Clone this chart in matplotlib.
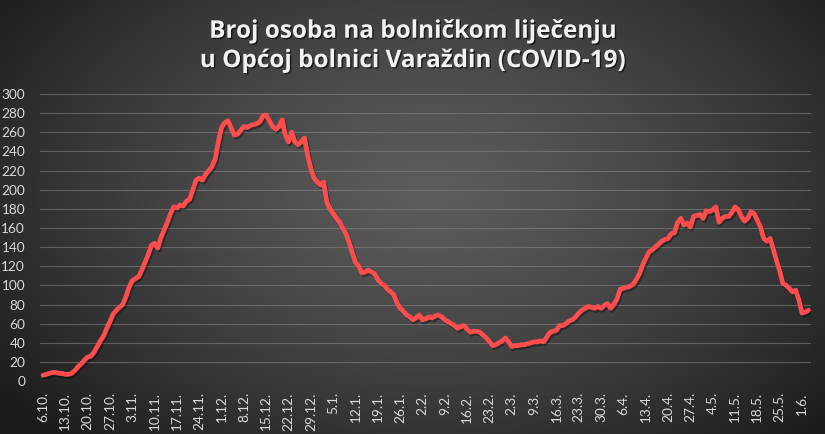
import matplotlib
matplotlib.use("Agg")
import matplotlib.pyplot as plt
import matplotlib.patheffects as pe
import numpy as np

plt.rcParams['font.family'] = ['Lato', 'DejaVu Sans']

# daily number of hospitalised persons, 6.10. -> 3.6.
patients = [
    6, 7, 8, 9, 9, 8, 8,
    7, 7, 8, 11, 15, 18, 22,
    25, 26, 30, 36, 42, 47, 55,
    62, 70, 74, 77, 80, 88, 98,
    105, 107, 109, 116, 124, 132, 142,
    144, 139, 150, 158, 166, 175, 182,
    181, 184, 183, 188, 190, 200, 210,
    212, 210, 216, 220, 224, 232, 250,
    265, 270, 272, 265, 257, 258, 262,
    266, 265, 267, 268, 269, 271, 277,
    278, 272, 266, 263, 266, 273, 257,
    250, 260, 250, 247, 250, 254, 236,
    222, 212, 208, 205, 208, 187, 180,
    175, 170, 166, 160, 154, 145, 134,
    124, 120, 113, 114, 116, 114, 112,
    106, 102, 100, 96, 93, 90, 82,
    76, 73, 69, 67, 64, 66, 69,
    64, 65, 67, 66, 68, 69, 67,
    64, 62, 60, 58, 55, 57, 58,
    54, 51, 52, 52, 51, 48, 45,
    41, 37, 38, 40, 42, 45, 41,
    36, 37, 37, 38, 38, 39, 40,
    41, 41, 42, 41, 46, 51, 52,
    53, 58, 58, 60, 63, 64, 67,
    71, 74, 76, 78, 77, 76, 78,
    76, 79, 81, 76, 80, 86, 96,
    97, 98, 99, 101, 106, 112, 121,
    128, 135, 137, 140, 143, 146, 148,
    149, 154, 155, 166, 170, 163, 165,
    161, 172, 173, 174, 170, 178, 177,
    179, 182, 166, 170, 172, 172, 176,
    182, 179, 172, 167, 170, 177, 175,
    168, 161, 149, 146, 149, 138, 126,
    115, 102, 100, 97, 93, 95, 85,
    71, 72, 74,
]

week_labels = ["6.10.", "13.10.", "20.10.", "27.10.", "3.11.", "10.11.", "17.11.",
               "24.11.", "1.12.", "8.12.", "15.12.", "22.12.", "29.12.", "5.1.",
               "12.1.", "19.1.", "26.1.", "2.2.", "9.2.", "16.2.", "23.2.", "2.3.",
               "9.3.", "16.3.", "23.3.", "30.3.", "6.4.", "13.4.", "20.4.", "27.4.",
               "4.5.", "11.5.", "18.5.", "25.5.", "1.6."]

title = "Broj osoba na bolničkom liječenju\nu Općoj bolnici Varaždin (COVID-19)"

fig = plt.figure(figsize=(8.25, 4.34), dpi=100)

# radial dark background
bg = fig.add_axes([0, 0, 1, 1], zorder=-5)
yy, xx = np.mgrid[0:434, 0:825]
r = np.sqrt(((xx - 430) / 520.0) ** 2 + ((yy - 190) / 330.0) ** 2)
shade = np.clip(0.36 - 0.24 * r ** 1.3, 0.1, 1)
bg.imshow(np.dstack([shade] * 3), aspect='auto', extent=[0, 1, 0, 1])
bg.axis('off')

ax = fig.add_axes([0.049, 0.122, 0.934, 0.6614])
ax.set_facecolor('none')
days = np.arange(len(patients))
ax.plot(days, patients, color='#ff4d4d', lw=3.4, solid_capstyle='round',
        solid_joinstyle='round',
        path_effects=[pe.SimpleLineShadow(offset=(1, -1.5), shadow_color='black', alpha=0.35),
                      pe.Normal()])

ax.set_ylim(0, 300)
ax.set_yticks(np.arange(0, 301, 20))
ax.set_xlim(-0.8, 240.8)
ax.set_xticks(np.arange(len(week_labels)) * 7)
ax.set_xticklabels(week_labels, rotation=90)
ax.grid(axis='y', color='#8a8a8a', lw=0.8, alpha=0.55)
ax.set_axisbelow(True)
for s in ax.spines.values():
    s.set_visible(False)
ax.tick_params(length=0, colors='#d9d9d9', labelsize=9.8)
ax.tick_params(axis='y', pad=11)
ax.tick_params(axis='x', pad=8)

fig.text(0.5, 0.893, title, ha='center', va='center', color='#f2f2f2',
         fontsize=17.5, fontweight='bold', linespacing=1.3,
         family=['Open Sans', 'DejaVu Sans'],
         path_effects=[pe.withSimplePatchShadow(offset=(1, -1), shadow_rgbFace='black', alpha=0.6)])

fig.savefig('out.png', dpi=100)
